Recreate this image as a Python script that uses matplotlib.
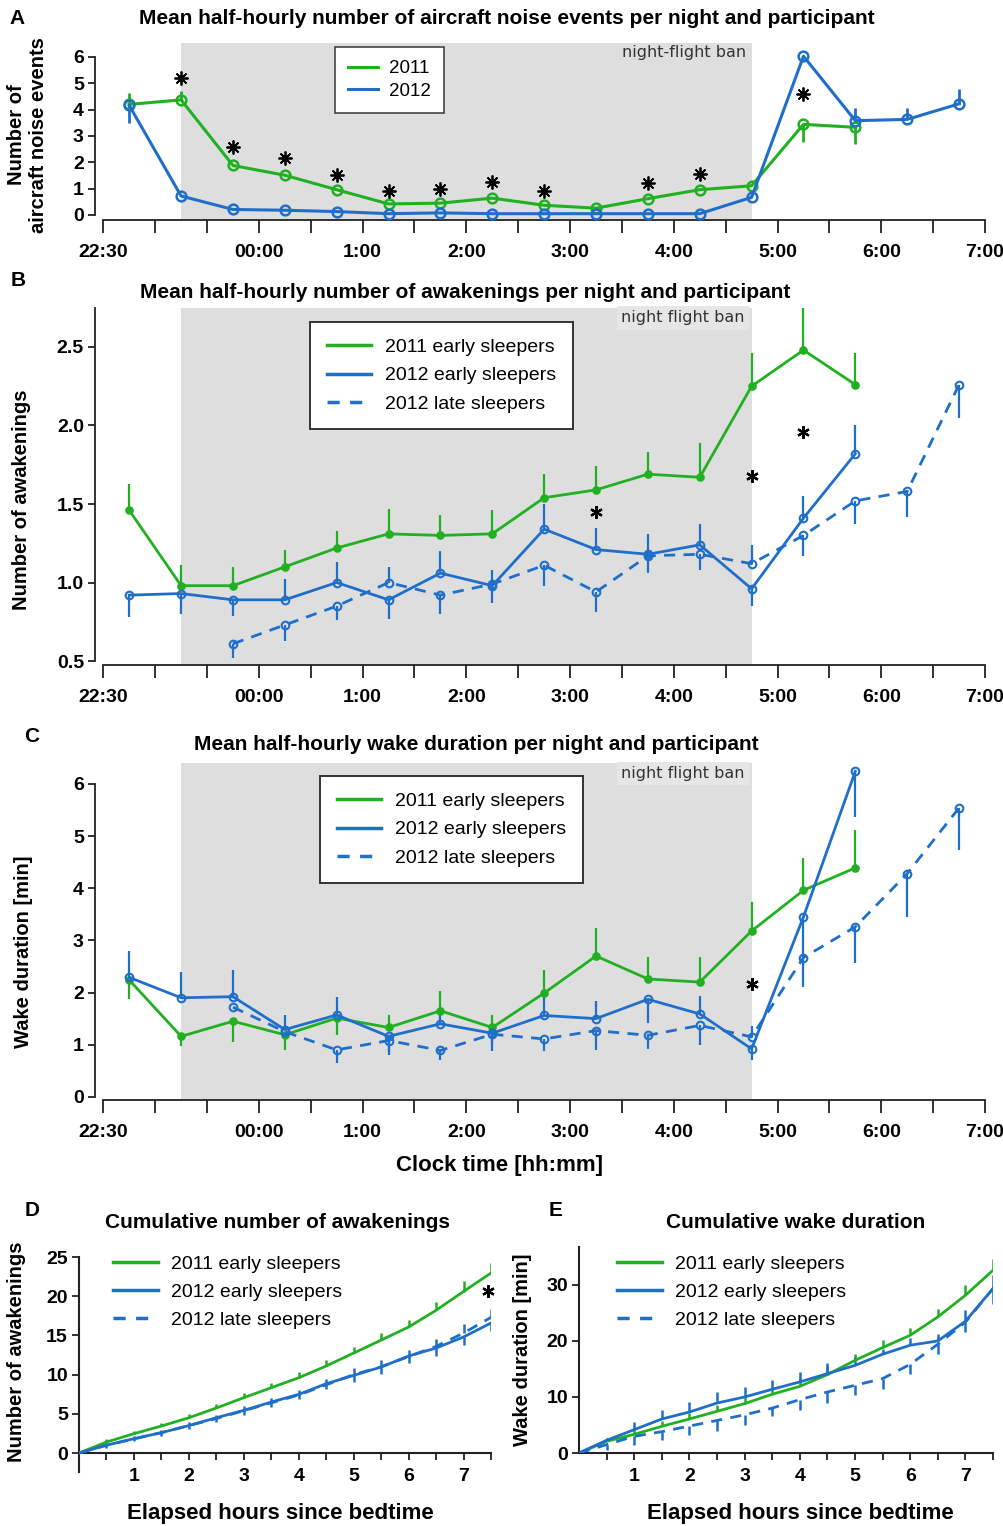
import numpy as np
import matplotlib
matplotlib.use("Agg")
import matplotlib.pyplot as plt
from matplotlib.lines import Line2D

plt.rcParams['font.family'] = ['Liberation Sans', 'DejaVu Sans']

GREEN = '#21b021'
BLUE = '#1f6fca'
GRAY = '#dedede'

# half-hour slots (mid points) for panels A-C
slots = ['22:45', '23:15', '23:45', '00:15', '00:45', '1:15', '1:45', '2:15', '2:45',
         '3:15', '3:45', '4:15', '4:45', '5:15', '5:45', '6:15', '6:45']
clock_labels = ['22:30', '', '', '00:00', '', '1:00', '', '2:00', '', '3:00', '',
                '4:00', '', '5:00', '', '6:00', '', '7:00']

# A: aircraft noise events
noise_2011 = [4.2, 4.37, 1.88, 1.51, 0.96, 0.42, 0.45, 0.64, 0.37, 0.26, 0.62, 0.96, 1.11, 3.44, 3.33]
noise_2011_err = [0.45, 0.35, 0, 0, 0, 0, 0, 0, 0, 0, 0, 0, 0, -0.65, -0.62]
noise_2012 = [4.16, 0.72, 0.21, 0.18, 0.13, 0.05, 0.08, 0.05, 0.05, 0.05, 0.05, 0.05, 0.67,
              6.03, 3.58, 3.63, 4.22]
noise_2012_err = [-0.68, 0, 0, 0, 0, 0, 0, 0, 0, 0, 0, 0, 0, 0, 0.47, 0.44, 0.55]
noise_star_slots = ['23:15', '23:45', '00:15', '00:45', '1:15', '1:45', '2:15', '2:45', '3:45', '4:15', '5:15']
noise_star_y = [5.2, 2.57, 2.18, 1.53, 0.93, 1.0, 1.24, 0.9, 1.21, 1.55, 4.58]

# B: awakenings
awak_2011 = [1.46, 0.98, 0.98, 1.10, 1.22, 1.31, 1.30, 1.31, 1.54, 1.59, 1.69, 1.67, 2.25, 2.48, 2.26]
awak_2011_err = [0.17, 0.13, 0.12, 0.11, 0.11, 0.16, 0.13, 0.15, 0.15, 0.15, 0.14, 0.22, 0.21, 0.3, 0.2]
awak_2012e = [0.92, 0.93, 0.89, 0.89, 1.00, 0.89, 1.06, 0.98, 1.34, 1.21, 1.18, 1.24, 0.96, 1.41, 1.82]
awak_2012e_err = [-0.14, -0.13, -0.1, 0.13, 0.13, -0.12, 0.14, 0.1, 0.16, 0.14, 0.13, 0.13, -0.11, 0.14, 0.18]
awak_2012l = [0.61, 0.73, 0.85, 1.0, 0.92, 0.99, 1.11, 0.94, 1.17, 1.18, 1.12, 1.30, 1.52, 1.58, 2.26]
awak_2012l_err = [-0.09, -0.1, -0.09, 0.1, -0.12, -0.12, -0.13, -0.13, -0.11, -0.1, 0.12, -0.13, -0.15, -0.16, -0.21]
awak_star_slots = ['3:15', '4:45', '5:15']
awak_star_y = [1.45, 1.68, 1.96]

# C: wake duration
wake_2011 = [2.24, 1.16, 1.45, 1.19, 1.51, 1.33, 1.65, 1.33, 1.99, 2.70, 2.26, 2.20, 3.18, 3.96, 4.39]
wake_2011_err = [-0.36, -0.19, -0.39, -0.29, -0.32, 0.24, 0.37, 0.24, 0.44, 0.53, 0.43, 0.49, 0.56, 0.62, 0.72]
wake_2012e = [2.29, 1.90, 1.92, 1.29, 1.57, 1.16, 1.40, 1.22, 1.56, 1.50, 1.87, 1.59, 0.92, 3.45, 6.24]
wake_2012e_err = [0.51, 0.5, 0.51, 0.27, 0.35, -0.3, 0.25, -0.35, 0.36, 0.34, -0.45, 0.34, -0.21, -0.78, -0.88]
wake_2012l = [1.72, 1.25, 0.90, 1.08, 0.89, 1.20, 1.11, 1.27, 1.18, 1.37, 1.15, 2.67, 3.26, 4.28, 5.54]
wake_2012l_err = [0, -0.1, -0.25, -0.27, -0.18, -0.2, -0.24, -0.37, -0.27, -0.37, 0.2, -0.57, -0.7, -0.83, -0.81]
wake_star_slots = ['4:45']
wake_star_y = [2.16]

# D/E: cumulative values per elapsed half hour
elapsed = [0, 0.5, 1, 1.5, 2, 2.5, 3, 3.5, 4, 4.5, 5, 5.5, 6, 6.5, 7, 7.5]
cum_awak_2011 = [0, 1.4, 2.47, 3.44, 4.5, 5.74, 7.06, 8.33, 9.6, 11.1, 12.75, 14.4, 16.07, 18.2, 20.6, 22.96]
cum_awak_2011_err = [0, 0.35, 0.4, 0.45, 0.5, 0.55, 0.6, 0.65, 0.7, 0.75, 0.8, 0.85, 0.9, 1.1, 1.4, 1.3]
cum_awak_2012e = [0, 1.0, 1.83, 2.6, 3.5, 4.5, 5.44, 6.5, 7.48, 8.84, 9.9, 10.97, 12.37, 13.39, 14.8, 16.58]
cum_awak_2012e_err = [0, -0.3, -0.35, -0.4, -0.45, -0.5, -0.55, -0.6, -0.65, -0.7, -0.8, -0.85, -0.9, -1.0, -1.0, -1.0]
cum_awak_2012l = [0, 1.0, 1.8, 2.6, 3.5, 4.4, 5.4, 6.4, 7.4, 8.7, 10.0, 11.0, 12.3, 13.6, 15.3, 17.3]
cum_awak_2012l_err = [0, 0.3, 0.35, 0.4, 0.45, 0.5, 0.55, 0.6, 0.65, 0.7, 0.8, 0.85, 0.9, 1.0, 1.1, 1.1]
cum_awak_star = (7.45, 20.7)

cum_wake_2011 = [0, 2.08, 3.33, 4.75, 6.06, 7.43, 8.8, 10.46, 11.88, 13.96, 16.5, 18.78, 20.97, 24.24, 28.1, 32.56]
cum_wake_2011_err = [0, 0.6, 0.8, 0.9, 1.0, 1.1, 1.2, 1.3, 1.4, 1.5, 1.2, 1.3, 1.3, 1.5, 1.9, 2.0]
cum_wake_2012e = [0, 2.26, 4.16, 6.06, 7.3, 8.9, 9.98, 11.35, 12.66, 14.14, 15.6, 17.6, 19.2, 19.96, 23.47, 29.3]
cum_wake_2012e_err = [0, 0.5, 1.3, 1.6, 1.7, 1.9, 1.8, 1.7, 1.8, 1.9, 1.5, 1.0, 1.2, 1.2, 2.0, 2.5]
cum_wake_2012l = [0, 1.49, 2.97, 3.8, 4.8, 5.8, 6.8, 8.0, 9.5, 10.87, 12.06, 13.25, 15.8, 19.37, 23.3, 29.3]
cum_wake_2012l_err = [0, -1.0, -1.6, -1.4, -1.6, -1.8, -1.8, -1.4, -1.9, -2.0, -1.7, -1.9, -1.7, -1.7, -1.8, -2.7]

legend_labels = ['2011 early sleepers', '2012 early sleepers', '2012 late sleepers']

W, H = 1004, 1526
fig = plt.figure(figsize=(W / 100, H / 100), dpi=100)

TITLE = 15
TICK = 14
LAB = 14.5


def px_box(l, t, r, b):
    return [l / W, 1 - b / H, (r - l) / W, (b - t) / H]


def ftext(x, y, s, **kw):
    fig.text(x / W, 1 - y / H, s, **kw)


def hours(labels):
    out = []
    for s in labels:
        h, m = s.split(':')
        out.append(((int(h) * 60 + int(m) - 22 * 60 - 30) % 1440) / 60)
    return np.array(out)


def bars(ax, x, y, e, color, lw=1.6):
    x, y, e = np.asarray(x, float), np.asarray(y, float), np.asarray(e, float)
    k = e != 0
    ax.vlines(x[k], y[k], y[k] + e[k], color=color, lw=lw, zorder=3)


def clock_axes(box, ylim, ybounds, yticks, fmt):
    ax = fig.add_axes(px_box(*box))
    ax.set_facecolor('none')
    ax.set_xlim(-0.08, 8.5)
    ax.set_ylim(*ylim)
    ax.axvspan(0.75, 6.25, color=GRAY, lw=0, zorder=0)
    for s in ['top', 'right']:
        ax.spines[s].set_visible(False)
    ax.spines['left'].set_bounds(*ybounds)
    ax.spines['bottom'].set_bounds(0, 8.5)
    for s in ['left', 'bottom']:
        ax.spines[s].set_linewidth(1.3)
        ax.spines[s].set_color('#222222')
    ax.set_xticks(np.arange(0, 8.51, 0.5))
    ax.set_xticklabels(clock_labels, fontweight='bold', fontsize=TICK)
    ax.set_yticks(yticks)
    ax.set_yticklabels([fmt.format(v) for v in yticks], fontweight='bold', fontsize=TICK)
    ax.tick_params(axis='x', length=9.5, width=1.3, pad=8, color='#222222')
    ax.tick_params(axis='y', length=5, width=1.3, pad=3, color='#222222')
    return ax


xs = hours(slots)

# ---------- A ----------
axA = clock_axes((95, 43, 985, 220), (-0.19, 6.53), (0, 6), [0, 1, 2, 3, 4, 5, 6], '{:.0f}')
x11 = xs[:len(noise_2011)]
axA.plot(x11, noise_2011, '-o', color=GREEN, lw=2.2, ms=7, mfc='none', mew=1.8, zorder=4)
axA.plot(xs, noise_2012, '-o', color=BLUE, lw=2.2, ms=7, mfc='none', mew=1.8, zorder=4)
bars(axA, x11, noise_2011, noise_2011_err, GREEN, lw=2)
bars(axA, xs, noise_2012, noise_2012_err, BLUE, lw=2)
axA.plot(hours(noise_star_slots), noise_star_y, ls='none', marker=(8, 2, 0), ms=10, mew=1.3,
         color='black', zorder=5)
axA.text(6.2, 6.17, 'night-flight ban', ha='right', va='center', fontsize=11.5,
         family='DejaVu Sans', color='#333333')
axA.legend(handles=[Line2D([], [], color=GREEN, lw=2.2), Line2D([], [], color=BLUE, lw=2.2)],
           labels=['2011', '2012'], loc='upper left', bbox_to_anchor=(335 / W, 1 - 47 / H),
           bbox_transform=fig.transFigure, fontsize=13.5, frameon=True, fancybox=False,
           edgecolor='#444444', framealpha=1, borderpad=0.7, handlelength=1.6,
           handletextpad=0.6, labelspacing=0.3, borderaxespad=0).get_frame().set_linewidth(1.2)
ftext(17, 18, 'A', fontsize=15, fontweight='bold', ha='center', va='center')
ftext(507, 19, 'Mean half-hourly number of aircraft noise events per night and participant',
      fontsize=TITLE, fontweight='bold', ha='center', va='center')
ftext(28, 135, 'Number of\naircraft noise events', fontsize=LAB, fontweight='bold', rotation=90,
      ha='center', va='center', linespacing=1.2)


def three_series(ax, y11, e11, y12e, e12e, y12l, e12l, stars_x, stars_y):
    x11 = xs[:len(y11)]
    xl = xs[2:2 + len(y12l)]
    ax.plot(x11, y11, '-o', color=GREEN, lw=2, ms=5, mew=1.2, zorder=4)
    ax.plot(xs[:len(y12e)], y12e, '-o', color=BLUE, lw=2, ms=5.5, mfc='none', mew=1.5, zorder=4)
    ax.plot(xl, y12l, '--o', color=BLUE, lw=2, ms=5.5, mfc='none', mew=1.5, dashes=(4, 3), zorder=4)
    bars(ax, x11, y11, e11, GREEN)
    bars(ax, xs[:len(y12e)], y12e, e12e, BLUE)
    bars(ax, xl, y12l, e12l, BLUE)
    ax.plot(hours(stars_x), stars_y, ls='none', marker=(6, 2, 0), ms=9, mew=1.6, color='black', zorder=5)


def series_legend(ax, left, top, frame=True, fs=14):
    hs = [Line2D([], [], color=GREEN, lw=2.5), Line2D([], [], color=BLUE, lw=2.5),
          Line2D([], [], color=BLUE, lw=2.5, ls='--', dashes=(3.5, 3))]
    leg = ax.legend(handles=hs, labels=legend_labels, loc='upper left',
                    bbox_to_anchor=(left / W, 1 - top / H), bbox_transform=fig.transFigure,
                    fontsize=fs, frameon=frame, fancybox=False, edgecolor='#333333', framealpha=1,
                    borderpad=0.85 if frame else 0, handlelength=2.3, handletextpad=0.7,
                    labelspacing=0.55, borderaxespad=0)
    if frame:
        leg.get_frame().set_linewidth(1.4)
    return leg


# ---------- B ----------
axB = clock_axes((95, 308, 985, 665), (0.475, 2.748), (0.5, 2.748), [0.5, 1.0, 1.5, 2.0, 2.5], '{:.1f}')
three_series(axB, awak_2011, awak_2011_err, awak_2012e, awak_2012e_err, awak_2012l, awak_2012l_err,
             awak_star_slots, awak_star_y)
axB.text(6.18, 2.685, 'night flight ban', ha='right', va='center', fontsize=11.5,
         family='DejaVu Sans', color='#333333',
         bbox=dict(facecolor='#e6e6e6', edgecolor='none', pad=3))
series_legend(axB, 310, 322)
ftext(18, 281, 'B', fontsize=15, fontweight='bold', ha='center', va='center')
ftext(465, 292, 'Mean half-hourly number of awakenings per night and participant',
      fontsize=TITLE, fontweight='bold', ha='center', va='center')
ftext(22, 500, 'Number of awakenings', fontsize=LAB, fontweight='bold', rotation=90,
      ha='center', va='center')

# ---------- C ----------
axC = clock_axes((95, 763, 985, 1100), (-0.06, 6.4), (0, 6), [0, 1, 2, 3, 4, 5, 6], '{:.0f}')
three_series(axC, wake_2011, wake_2011_err, wake_2012e, wake_2012e_err, wake_2012l, wake_2012l_err,
             wake_star_slots, wake_star_y)
axC.text(6.18, 6.2, 'night flight ban', ha='right', va='center', fontsize=11.5,
         family='DejaVu Sans', color='#333333',
         bbox=dict(facecolor='#e6e6e6', edgecolor='none', pad=3))
series_legend(axC, 320, 776)
ftext(32, 736, 'C', fontsize=15, fontweight='bold', ha='center', va='center')
ftext(476, 745, 'Mean half-hourly wake duration per night and participant',
      fontsize=TITLE, fontweight='bold', ha='center', va='center')
ftext(24, 952, 'Wake duration [min]', fontsize=LAB, fontweight='bold', rotation=90,
      ha='center', va='center')
ftext(500, 1165, 'Clock time [hh:mm]', fontsize=16, fontweight='bold', ha='center', va='center')


# ---------- D / E ----------
def cum_axes(box, ylim, yticks, zero_spine):
    ax = fig.add_axes(px_box(*box))
    ax.set_xlim(0, 7.5)
    ax.set_ylim(*ylim)
    for s in ['top', 'right']:
        ax.spines[s].set_visible(False)
    if zero_spine:
        ax.spines['bottom'].set_position(('data', 0))
    for s in ['left', 'bottom']:
        ax.spines[s].set_linewidth(1.5)
        ax.spines[s].set_color('#222222')
    ticks = np.arange(0.5, 7.51, 0.5)
    ax.set_xticks(ticks)
    ax.set_xticklabels([f'{t:.0f}' if t == int(t) else '' for t in ticks], fontweight='bold', fontsize=TICK)
    ax.set_yticks(yticks)
    ax.set_yticklabels([str(v) for v in yticks], fontweight='bold', fontsize=TICK)
    ax.tick_params(axis='x', length=5, width=1.3, pad=6, color='#222222')
    ax.tick_params(axis='y', length=5, width=1.3, pad=3, color='#222222')
    return ax


def cum_series(ax, y11, e11, y12e, e12e, y12l, e12l):
    ax.plot(elapsed, y11, color=GREEN, lw=2, zorder=4)
    ax.plot(elapsed, y12e, color=BLUE, lw=2, zorder=4)
    ax.plot(elapsed, y12l, color=BLUE, lw=2, ls='--', dashes=(4, 3), zorder=4)
    bars(ax, elapsed, y11, e11, GREEN, lw=1.8)
    bars(ax, elapsed, y12e, e12e, BLUE, lw=1.8)
    bars(ax, elapsed, y12l, e12l, BLUE, lw=1.8)


axD = cum_axes((79, 1257, 491, 1472), (-2.42, 25), [0, 5, 10, 15, 20, 25], True)
cum_series(axD, cum_awak_2011, cum_awak_2011_err, cum_awak_2012e, cum_awak_2012e_err,
           cum_awak_2012l, cum_awak_2012l_err)
axD.plot([cum_awak_star[0]], [cum_awak_star[1]], ls='none', marker=(6, 2, 0), ms=9, mew=1.6,
         color='black', zorder=5, clip_on=False)
series_legend(axD, 113, 1255, frame=False)
ftext(32, 1210, 'D', fontsize=15, fontweight='bold', ha='center', va='center')
ftext(278, 1222, 'Cumulative number of awakenings', fontsize=15, fontweight='bold', ha='center', va='center')
ftext(17, 1352, 'Number of awakenings', fontsize=LAB, fontweight='bold', rotation=90, ha='center', va='center')
ftext(280, 1513, 'Elapsed hours since bedtime', fontsize=16, fontweight='bold', ha='center', va='center')

axE = cum_axes((579, 1247, 993, 1453), (0, 36.7), [0, 10, 20, 30], False)
cum_series(axE, cum_wake_2011, cum_wake_2011_err, cum_wake_2012e, cum_wake_2012e_err,
           cum_wake_2012l, cum_wake_2012l_err)
series_legend(axE, 617, 1255, frame=False)
ftext(556, 1210, 'E', fontsize=15, fontweight='bold', ha='center', va='center')
ftext(796, 1222, 'Cumulative wake duration', fontsize=15, fontweight='bold', ha='center', va='center')
ftext(523, 1350, 'Wake duration [min]', fontsize=LAB, fontweight='bold', rotation=90, ha='center', va='center')
ftext(800, 1513, 'Elapsed hours since bedtime', fontsize=16, fontweight='bold', ha='center', va='center')

fig.savefig('out.png', dpi=100)
